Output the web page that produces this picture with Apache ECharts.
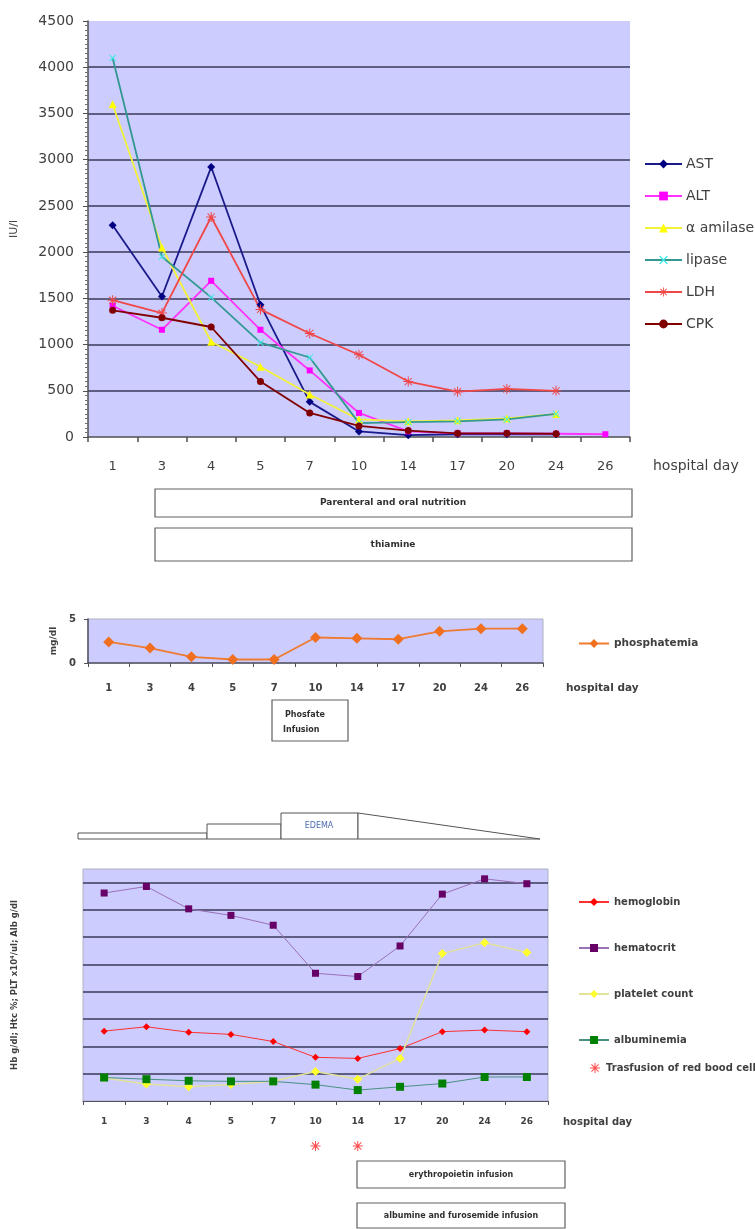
<!DOCTYPE html>
<html>
<head>
<meta charset="utf-8">
<script src="https://cdn.jsdelivr.net/npm/echarts@6/dist/echarts.min.js"></script>
<style>html,body{margin:0;padding:0;background:#fff}#c{width:755px;height:1229px}</style>
</head>
<body>
<div id="c"></div>
<script>
// ---------- data ----------
const days = ['1','3','4','5','7','10','14','17','20','24','26'];
// top chart (IU/l)
const ast     = [2290,1520,2920,1430,380,60,20,30,30,30,null];
const alt     = [1420,1160,1690,1160,720,260,60,40,40,35,30];
const amilase = [3600,2050,1030,760,460,190,170,180,200,250,null];
const lipase  = [4100,1950,1510,1020,860,150,160,170,190,250,null];
const ldh     = [1480,1340,2380,1380,1120,890,600,490,520,500,null];
const cpk     = [1370,1290,1190,600,260,120,70,40,40,35,null];
const topTicks = {min:0, max:4500, interval:500};
// middle chart (mg/dl)
const phosphatemia = [2.4,1.7,0.7,0.4,0.4,2.9,2.8,2.7,3.6,3.9,3.9];
const midTicks = {min:0, max:5, interval:5};
// bottom chart
const hemoglobin  = [12.8,13.6,12.6,12.2,10.9,8.0,7.8,9.6,12.7,13.0,12.7];
const hematocrit  = [38.1,39.3,35.2,34.0,32.2,23.4,22.8,28.4,37.9,40.7,39.8];
const platelets   = [4.2,3.1,2.6,3.0,3.6,5.4,4.0,7.8,27.0,29.0,27.2];
const albuminemia = [4.3,4.0,3.7,3.6,3.6,3.0,2.0,2.6,3.2,4.4,4.4];
const transfusionDays = ['10','14'];
const botTicks = {min:0, max:42.5, interval:5};

// ---------- symbols ----------
const asterisk = 'path://M9,0h2v20h-2z M0,9h20v2h-20z M2.2,3.6l1.4,-1.4l14.2,14.2l-1.4,1.4z M16.4,2.2l1.4,1.4l-14.2,14.2l-1.4,-1.4z';
const cross = 'path://M2,0l8,8l8,-8l2,2l-8,8l8,8l-2,2l-8,-8l-8,8l-2,-2l8,-8l-8,-8z';

const txt = '#404040';
const plain = v => String(v);
const gridLine = {show:true, showMinLine:false, showMaxLine:false, lineStyle:{color:'#3a3a5a', width:1.5}};
const smallFont = {fontFamily:'DejaVu Sans', fontSize:10, fontWeight:'bold', color:txt};

function lineS(name, data, xi, color, lineColor, symbol, size, width) {
  return {
    type:'line', name, data, xAxisIndex:xi, yAxisIndex:xi,
    symbol, symbolSize:size, showAllSymbol:true, connectNulls:false,
    lineStyle:{color:lineColor, width:width},
    itemStyle:{color:color, borderWidth:0},
    emphasis:{disabled:true}, animation:false
  };
}

const chart = echarts.init(document.getElementById('c'), null, {renderer:'canvas'});
const option = {
  animation:false,
  backgroundColor:'#ffffff',
  textStyle:{fontFamily:'DejaVu Sans'},
  grid:[
    {left:88, top:21, width:542, height:416, show:true, backgroundColor:'#CCCCFF', borderWidth:0, outerBoundsMode:'none', containLabel:false},
    {left:88, top:619, width:455, height:44, show:true, backgroundColor:'#CCCCFF', borderWidth:1, borderColor:'#b0b0c0', outerBoundsMode:'none', containLabel:false},
    {left:83, top:869, width:465, height:232, show:true, backgroundColor:'#CCCCFF', borderWidth:1, borderColor:'#b0b0c0', outerBoundsMode:'none', containLabel:false},
    {left:83, top:1140, width:465, height:12, show:false, outerBoundsMode:'none', containLabel:false}
  ],
  xAxis:[
    {gridIndex:0, type:'category', data:days, boundaryGap:true,
     axisLine:{show:true, lineStyle:{color:'#505050', width:1.5}},
     axisTick:{show:true, alignWithLabel:false, length:5, lineStyle:{color:'#505050', width:1.5}},
     axisLabel:{margin:23, fontSize:13, color:txt, fontFamily:'DejaVu Sans', interval:0},
     splitLine:{show:false}},
    {gridIndex:1, type:'category', data:days, boundaryGap:true,
     axisLine:{show:true, lineStyle:{color:'#505060', width:1.5}},
     axisTick:{show:true, length:4, lineStyle:{color:'#505060'}},
     axisLabel:Object.assign({margin:20, interval:0}, smallFont),
     splitLine:{show:false}},
    {gridIndex:2, type:'category', data:days, boundaryGap:true,
     axisLine:{show:true, lineStyle:{color:'#505060', width:1}},
     axisTick:{show:true, length:4, lineStyle:{color:'#505060'}},
     axisLabel:Object.assign({margin:16, interval:0}, smallFont, {fontSize:9}),
     splitLine:{show:false}},
    {gridIndex:3, type:'category', data:days, boundaryGap:true, show:false}
  ],
  yAxis:[
    {gridIndex:0, type:'value', min:topTicks.min, max:topTicks.max, interval:topTicks.interval,
     name:'IU/l', nameLocation:'middle', nameRotate:90, nameGap:68,
     nameTextStyle:{fontSize:11, color:txt, fontFamily:'DejaVu Sans'},
     axisLine:{show:true, lineStyle:{color:'#505050', width:1.5}},
     axisTick:{show:true, length:5, lineStyle:{color:'#505050'}},
     minorTick:{show:true, splitNumber:10, length:3, lineStyle:{color:'#707070'}},
     axisLabel:{margin:14, fontSize:14, color:txt, fontFamily:'DejaVu Sans', formatter:plain},
     splitLine:gridLine},
    {gridIndex:1, type:'value', min:midTicks.min, max:midTicks.max, interval:midTicks.interval,
     name:'mg/dl', nameLocation:'middle', nameRotate:90, nameGap:28,
     nameTextStyle:Object.assign({}, smallFont, {fontSize:9}),
     axisLine:{show:true, lineStyle:{color:'#505060', width:1.5}},
     axisTick:{show:true, length:4, lineStyle:{color:'#505060'}},
     axisLabel:Object.assign({margin:12, formatter:plain}, smallFont),
     splitLine:{show:false}},
    {gridIndex:2, type:'value', min:botTicks.min, max:botTicks.max, interval:botTicks.interval,
     name:'Hb g/dl; Htc %; PLT x10\u2074/ul; Alb g/dl', nameLocation:'middle', nameRotate:90, nameGap:64,
     nameTextStyle:Object.assign({}, smallFont, {fontSize:8.5}),
     axisLine:{show:false}, axisTick:{show:false}, axisLabel:{show:false},
     splitLine:gridLine},
    {gridIndex:3, type:'value', min:0, max:1, show:false, splitLine:{show:false}}
  ],
  legend:[
    {orient:'vertical', left:639, top:152, itemWidth:37, itemHeight:11, itemGap:18,
     data:['AST','ALT','\u03b1 amilase','lipase','LDH','CPK'],
     textStyle:{fontSize:14, color:txt, fontFamily:'DejaVu Sans', lineHeight:14, padding:[0,0,0,-1]},
     selectedMode:false},
    {orient:'vertical', left:573, top:633, itemWidth:30, itemHeight:11,
     data:['phosphatemia'], textStyle:Object.assign({}, smallFont, {fontSize:10.5}), selectedMode:false},
    {orient:'vertical', left:573, top:891, itemWidth:30, itemHeight:10, itemGap:34,
     data:['hemoglobin','hematocrit','platelet count','albuminemia'],
     textStyle:Object.assign({lineHeight:12}, smallFont), selectedMode:false},
    {orient:'vertical', left:585, top:1058, itemWidth:12, itemHeight:10,
     data:['Trasfusion of red bood cells'],
     textStyle:Object.assign({}, smallFont), selectedMode:false}
  ],
  series:[
    lineS('AST', ast, 0, '#000080', '#1a1a8a', 'diamond', 8, 1.8),
    lineS('ALT', alt, 0, '#ff00ff', '#ff33ff', 'rect', 6, 1.8),
    lineS('\u03b1 amilase', amilase, 0, '#ffff00', '#f2f23a', 'triangle', 8, 1.8),
    lineS('lipase', lipase, 0, '#40e8e8', '#339990', cross, 7, 1.8),
    lineS('LDH', ldh, 0, '#f04848', '#f04848', asterisk, 10, 1.8),
    lineS('CPK', cpk, 0, '#800000', '#800000', 'circle', 7, 1.8),
    lineS('phosphatemia', phosphatemia, 1, '#f07020', '#f07a30', 'diamond', 11, 1.8),
    lineS('hemoglobin', hemoglobin, 2, '#ff0000', '#ff3030', 'diamond', 7, 1),
    lineS('hematocrit', hematocrit, 2, '#660066', '#9a70b8', 'rect', 7, 1),
    lineS('platelet count', platelets, 2, '#ffff30', '#e2e29a', 'diamond', 9, 1.5),
    lineS('albuminemia', albuminemia, 2, '#008000', '#4a9080', 'rect', 8, 1),
    {type:'scatter', name:'Trasfusion of red bood cells', xAxisIndex:3, yAxisIndex:3,
     data:transfusionDays.map(d => [d, 0.5]), symbol:asterisk, symbolSize:10,
     itemStyle:{color:'#ff2020'}, emphasis:{disabled:true}}
  ],
  graphic:[
    // top chart
    {type:'text', left:653, top:459, style:{text:'hospital day', fontSize:14, fill:txt, fontFamily:'DejaVu Sans'}},
    {type:'rect', shape:{x:155, y:489, width:477, height:28}, style:{fill:'#fff', stroke:'#606060', lineWidth:1.2}},
    {type:'text', x:393, y:503, style:{text:'Parenteral and oral nutrition', fontSize:9, fontWeight:'bold', fill:'#303030', fontFamily:'DejaVu Sans', align:'center', verticalAlign:'middle'}},
    {type:'rect', shape:{x:155, y:528, width:477, height:33}, style:{fill:'#fff', stroke:'#606060', lineWidth:1.2}},
    {type:'text', x:393, y:545, style:{text:'thiamine', fontSize:9, fontWeight:'bold', fill:'#303030', fontFamily:'DejaVu Sans', align:'center', verticalAlign:'middle'}},
    // middle chart
    {type:'text', left:566, top:683, style:{text:'hospital day', fontSize:10.5, fontWeight:'bold', fill:txt, fontFamily:'DejaVu Sans'}},
    {type:'rect', shape:{x:272, y:700, width:76, height:41}, style:{fill:'#fff', stroke:'#606060', lineWidth:1.2}},
    {type:'text', x:285, y:715, style:{text:'Phosfate', fontSize:8, fontWeight:'bold', fill:'#303030', fontFamily:'DejaVu Sans', verticalAlign:'middle'}},
    {type:'text', x:283, y:730, style:{text:'Infusion', fontSize:8, fontWeight:'bold', fill:'#303030', fontFamily:'DejaVu Sans', verticalAlign:'middle'}},
    // edema shape
    {type:'rect', shape:{x:78, y:833, width:129, height:6}, style:{fill:'#fff', stroke:'#555', lineWidth:1}},
    {type:'rect', shape:{x:207, y:824, width:74, height:15}, style:{fill:'#fff', stroke:'#555', lineWidth:1}},
    {type:'rect', shape:{x:281, y:813, width:77, height:26}, style:{fill:'#fff', stroke:'#555', lineWidth:1}},
    {type:'polygon', shape:{points:[[358,813],[540,839],[358,839]]}, style:{fill:'#fff', stroke:'#555', lineWidth:1}},
    {type:'text', x:319, y:826, style:{text:'EDEMA', fontSize:8, fill:'#4a6cb0', fontFamily:'DejaVu Sans', align:'center', verticalAlign:'middle'}},
    // bottom chart
    {type:'text', left:563, top:1117, style:{text:'hospital day', fontSize:10, fontWeight:'bold', fill:txt, fontFamily:'DejaVu Sans'}},
    {type:'rect', shape:{x:357, y:1161, width:208, height:27}, style:{fill:'#fff', stroke:'#606060', lineWidth:1.2}},
    {type:'text', x:461, y:1175, style:{text:'erythropoietin infusion', fontSize:8, fontWeight:'bold', fill:'#303030', fontFamily:'DejaVu Sans', align:'center', verticalAlign:'middle'}},
    {type:'rect', shape:{x:357, y:1203, width:208, height:25}, style:{fill:'#fff', stroke:'#606060', lineWidth:1.2}},
    {type:'text', x:461, y:1216, style:{text:'albumine and furosemide infusion', fontSize:8, fontWeight:'bold', fill:'#303030', fontFamily:'DejaVu Sans', align:'center', verticalAlign:'middle'}}
  ]
};
chart.setOption(option);
</script>
</body>
</html>
